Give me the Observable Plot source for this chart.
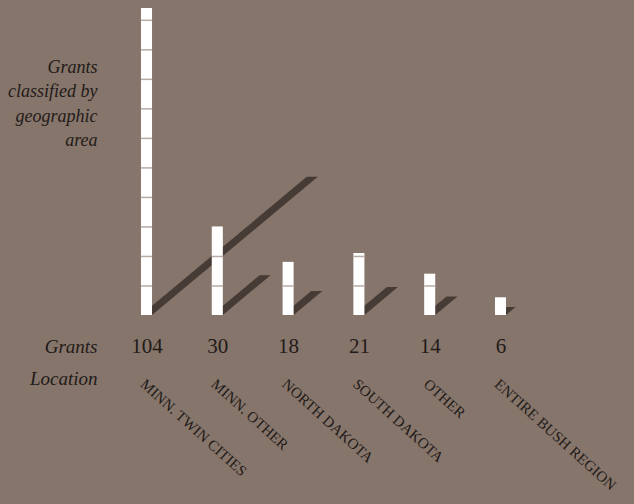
<!DOCTYPE html>
<html>
<head>
<meta charset="utf-8">
<script src="https://cdn.jsdelivr.net/npm/d3@7"></script>
<script src="https://cdn.jsdelivr.net/npm/@observablehq/plot@0.6"></script>
<style>
  html, body { margin: 0; padding: 0; background: #86756b; }
  #chart svg { display: block; background: #86756b; }
</style>
</head>
<body>
<div id="chart"></div>
<script>
// ---- data ----
const categories = ["MINN. TWIN CITIES", "MINN. OTHER", "NORTH DAKOTA", "SOUTH DAKOTA", "OTHER", "ENTIRE BUSH REGION"];
const grants = [104, 30, 18, 21, 14, 6];
const grantLabels = ["104", "30", "18", "21", "14", "6"];
const titleText = "Grants\nclassified by\ngeographic\narea";
const rowLabels = ["Grants", "Location"];
const segmentStep = 10;

// ---- derived tables ----
const ink = "#221b18", shadowColor = "#463b35";
const serif = "'Liberation Serif', serif";
const halfW = 0.078;                 // bar half-width in category units
const pxPerX = (500.5 - 146.5) / 5;  // px per category unit
const pxPerY = (315 - 8) / 104;      // px per grant
const bars = grants.map((v, i) => ({i, v, cat: categories[i], label: grantLabels[i]}));
const segs = bars.flatMap(d => d3.range(segmentStep, d.v, segmentStep).map(t => ({i: d.i, t})));
const shadows = bars.flatMap(d => {
  const h = d.v * 0.45;                     // shadow rise (grant units)
  const dx = (h * pxPerY * 1.2) / pxPerX;   // shadow run (category units)
  return [
    {cat: d.cat, y: 0, x1: d.i - halfW, x2: d.i + halfW},
    {cat: d.cat, y: h, x1: d.i - halfW + dx, x2: d.i + halfW + dx}
  ];
});

const chart = Plot.plot({
  width: 634,
  height: 504,
  margin: 0,
  x: {type: "linear", domain: [0, 5], range: [146.5, 500.5], axis: null},
  y: {type: "linear", domain: [0, 104], range: [315, 8], axis: null},
  marks: [
    Plot.areaX(shadows, {y: "y", x1: "x1", x2: "x2", z: "cat", fill: shadowColor}),
    Plot.rect(bars, {x1: d => d.i - halfW, x2: d => d.i + halfW, y1: 0, y2: "v", fill: "white"}),
    Plot.ruleY(segs, {y: "t", x1: d => d.i - halfW, x2: d => d.i + halfW, stroke: "#b7aba5", strokeWidth: 1.5}),
    Plot.text(bars, {x: "i", y: 0, text: "label", dy: 37, lineAnchor: "bottom", fontSize: 21, fill: ink, fontFamily: serif}),
    Plot.text(bars, {x: "i", y: 0, text: "cat", dx: -7.5, dy: 70, rotate: 42, textAnchor: "start", lineAnchor: "bottom", fontSize: 15, fill: ink, fontFamily: serif, ariaLabel: "categories"}),
    Plot.text([titleText], {frameAnchor: "top-left", dx: 97, dy: 55, text: d => d, textAnchor: "end", lineAnchor: "top", lineHeight: 1.36, fontSize: 18, fontStyle: "italic", fill: ink, fontFamily: serif, ariaLabel: "title"}),
    Plot.text([rowLabels[0]], {frameAnchor: "top-left", dx: 97, dy: 352, text: d => d, textAnchor: "end", lineAnchor: "bottom", fontSize: 19, fontStyle: "italic", fill: ink, fontFamily: serif}),
    Plot.text([rowLabels[1]], {frameAnchor: "top-left", dx: 97, dy: 384, text: d => d, textAnchor: "end", lineAnchor: "bottom", fontSize: 19, fontStyle: "italic", fill: ink, fontFamily: serif})
  ]
});
d3.select(chart).selectAll('g[aria-label="categories"] text').style("letter-spacing", "1.5px");
d3.select(chart).selectAll('g[aria-label="title"] text').style("letter-spacing", "-0.3px");
document.getElementById("chart").appendChild(chart);
</script>
</body>
</html>
